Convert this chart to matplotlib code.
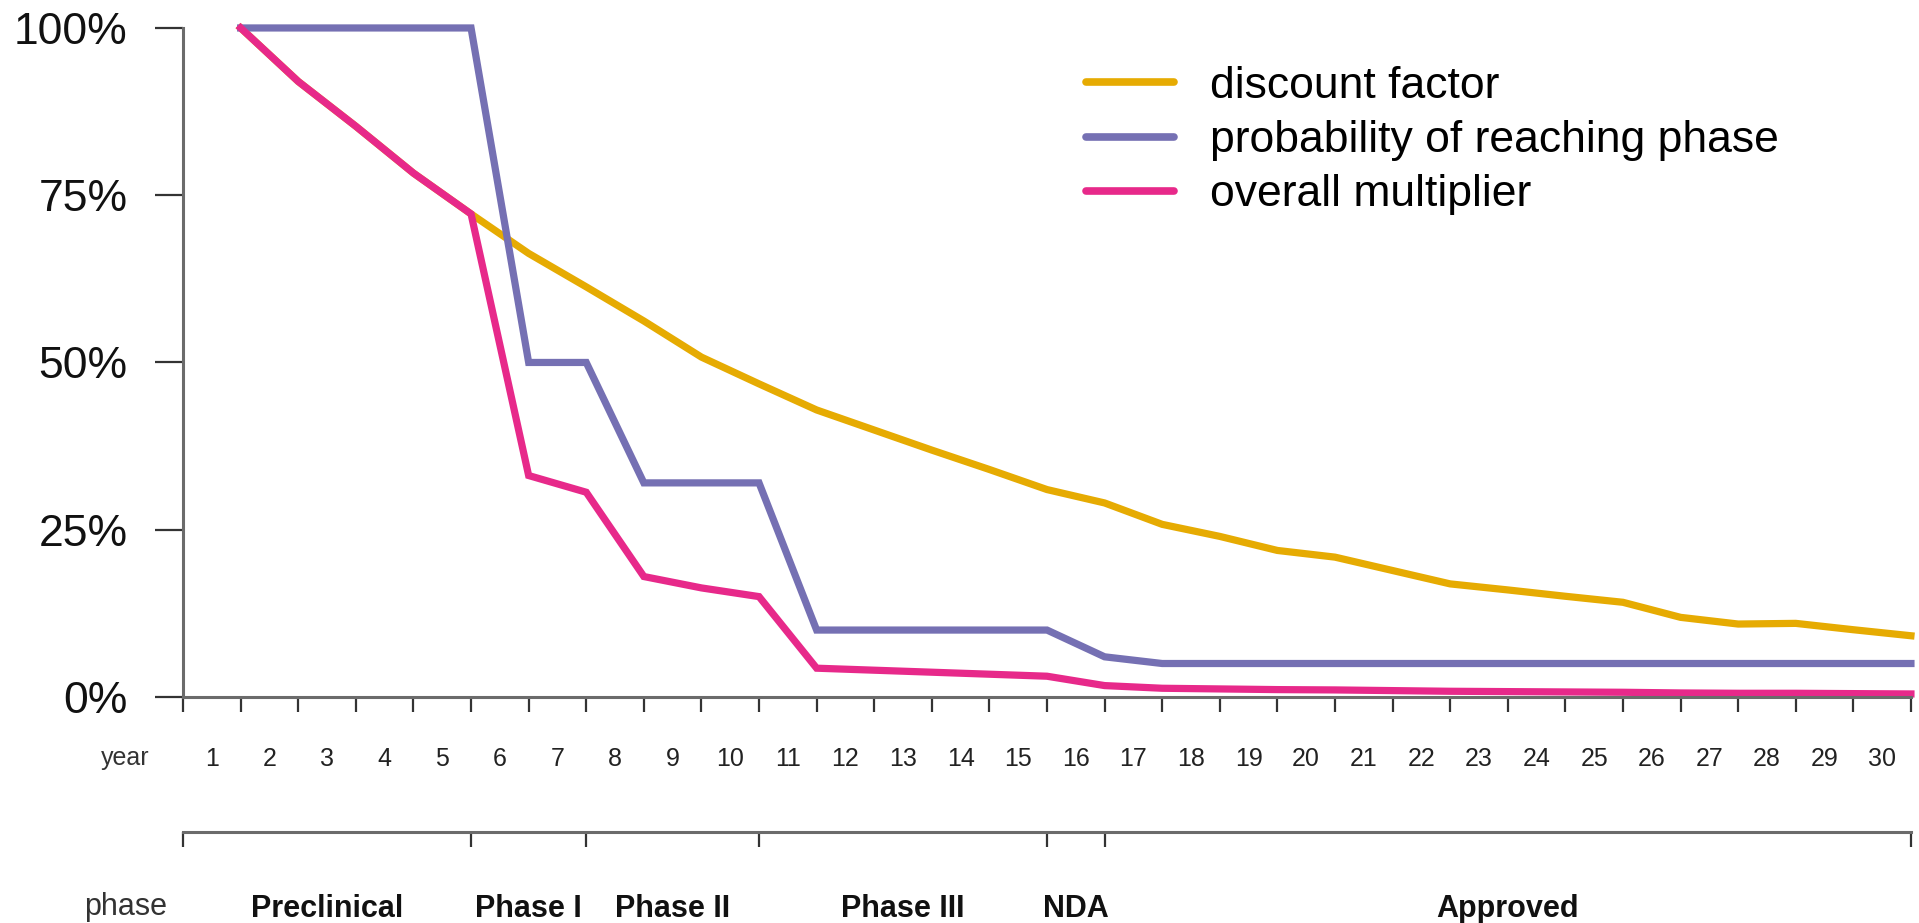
import numpy as np
import matplotlib
matplotlib.use("Agg")
import matplotlib.pyplot as plt
import matplotlib.transforms as mtransforms


# =====================================
# DATA
# =====================================

years = list(range(1, 31))

# curve points sit on the year boundaries 1..30
points = list(range(1, 31))

discount_factor = [
    100, 92.0, 85.3, 78.3, 72.2, 66.3, 61.3, 56.2, 50.8, 46.8,
    42.9, 39.9, 36.9, 34.0, 31.0, 29.0, 25.8, 24.0, 21.9, 20.9,
    18.9, 16.9, 16.0, 15.05, 14.15, 11.9, 10.9, 11.0, 10.05, 9.15,
]

prob_reaching = [
    100, 100, 100, 100, 100, 50, 50, 32, 32, 32,
    10, 10, 10, 10, 10, 6, 5, 5, 5, 5,
    5, 5, 5, 5, 5, 5, 5, 5, 5, 5,
]

overall = [
    100, 92.0, 85.3, 78.3, 72.2, 33.1, 30.6, 18.0, 16.3, 15.0,
    4.3, 4.0, 3.7, 3.4, 3.1, 1.7, 1.3, 1.2, 1.1, 1.05,
    0.95, 0.85, 0.8, 0.75, 0.7, 0.6, 0.55, 0.55, 0.5, 0.45,
]

phase_names = ["Preclinical", "Phase I", "Phase II", "Phase III", "NDA", "Approved"]
phase_bounds = [0, 5, 7, 10, 15, 16, 30]

series_labels = ["discount factor", "probability of reaching phase", "overall multiplier"]
colors = ["#E6AB02", "#7570B3", "#E7298A"]


# =====================================
# FIGURE
# =====================================

plt.rcParams["font.family"] = ["Liberation Sans", "DejaVu Sans"]

fig = plt.figure(figsize=(19.19, 9.23), dpi=100)
ax = fig.add_axes([0.0954, 0.2449, 0.9958 - 0.0954, 0.9697 - 0.2449])

spine_color = "#6b6b6b"

for vals, col, lab in zip([discount_factor, prob_reaching, overall], colors, series_labels):
    ax.plot(points, vals, color=col, lw=5.2, label=lab,
            solid_joinstyle="miter", clip_on=False)

ax.set_xlim(0, 30)
ax.set_ylim(0, 100)

for s in ["top", "right"]:
    ax.spines[s].set_visible(False)
ax.spines["left"].set_color(spine_color)
ax.spines["bottom"].set_color(spine_color)
ax.spines["left"].set_linewidth(2.2)
ax.spines["bottom"].set_linewidth(2.2)

# y axis
ax.set_yticks([0, 25, 50, 75, 100])
ax.set_yticklabels(["0%", "25%", "50%", "75%", "100%"])
ax.tick_params(axis="y", length=20, width=1.6, color="#333333",
               pad=20, labelsize=32, labelcolor="#111111")

# x axis: ticks on boundaries, year labels between them
ax.set_xticks(range(0, 31))
ax.set_xticklabels([])
ax.set_xticks([y - 0.5 for y in years], minor=True)
ax.set_xticklabels([str(y) for y in years], minor=True)
ax.tick_params(axis="x", which="major", length=11, width=1.6, color="#333333")
ax.tick_params(axis="x", which="minor", length=0, pad=36,
               labelsize=18, labelcolor="#222222")

# phase bracket axis
sec = ax.secondary_xaxis(-0.2018)
sec.spines["bottom"].set_color(spine_color)
sec.spines["bottom"].set_linewidth(2.2)
sec.set_xticks(phase_bounds)
sec.set_xticklabels([])
mids = [(a + b) / 2 for a, b in zip(phase_bounds[:-1], phase_bounds[1:])]
sec.set_xticks(mids, minor=True)
sec.set_xticklabels(phase_names, minor=True, fontweight="bold")
sec.tick_params(axis="x", which="major", length=11, width=1.6, color="#333333")
sec.tick_params(axis="x", which="minor", length=0, pad=45,
                labelsize=22, labelcolor="#111111")

# row titles
trans = mtransforms.blended_transform_factory(ax.transData, fig.transFigure)
ax.text(-1.0, 1 - 758 / 923, "year", transform=trans, ha="center", va="center",
        fontsize=18, color="#333333", clip_on=False)
ax.text(-1.0, 1 - 907 / 923, "phase", transform=trans, ha="center", va="center",
        fontsize=22, color="#333333", clip_on=False)

# legend
leg = ax.legend(loc="upper left", bbox_to_anchor=(0.512, 0.97), frameon=False,
                fontsize=32, handlelength=2.0, handletextpad=0.8,
                labelspacing=0.3, borderaxespad=0)
for line in leg.get_lines():
    line.set_linewidth(5.5)
    line.set_solid_capstyle("round")

fig.savefig("out.png", dpi=100)
